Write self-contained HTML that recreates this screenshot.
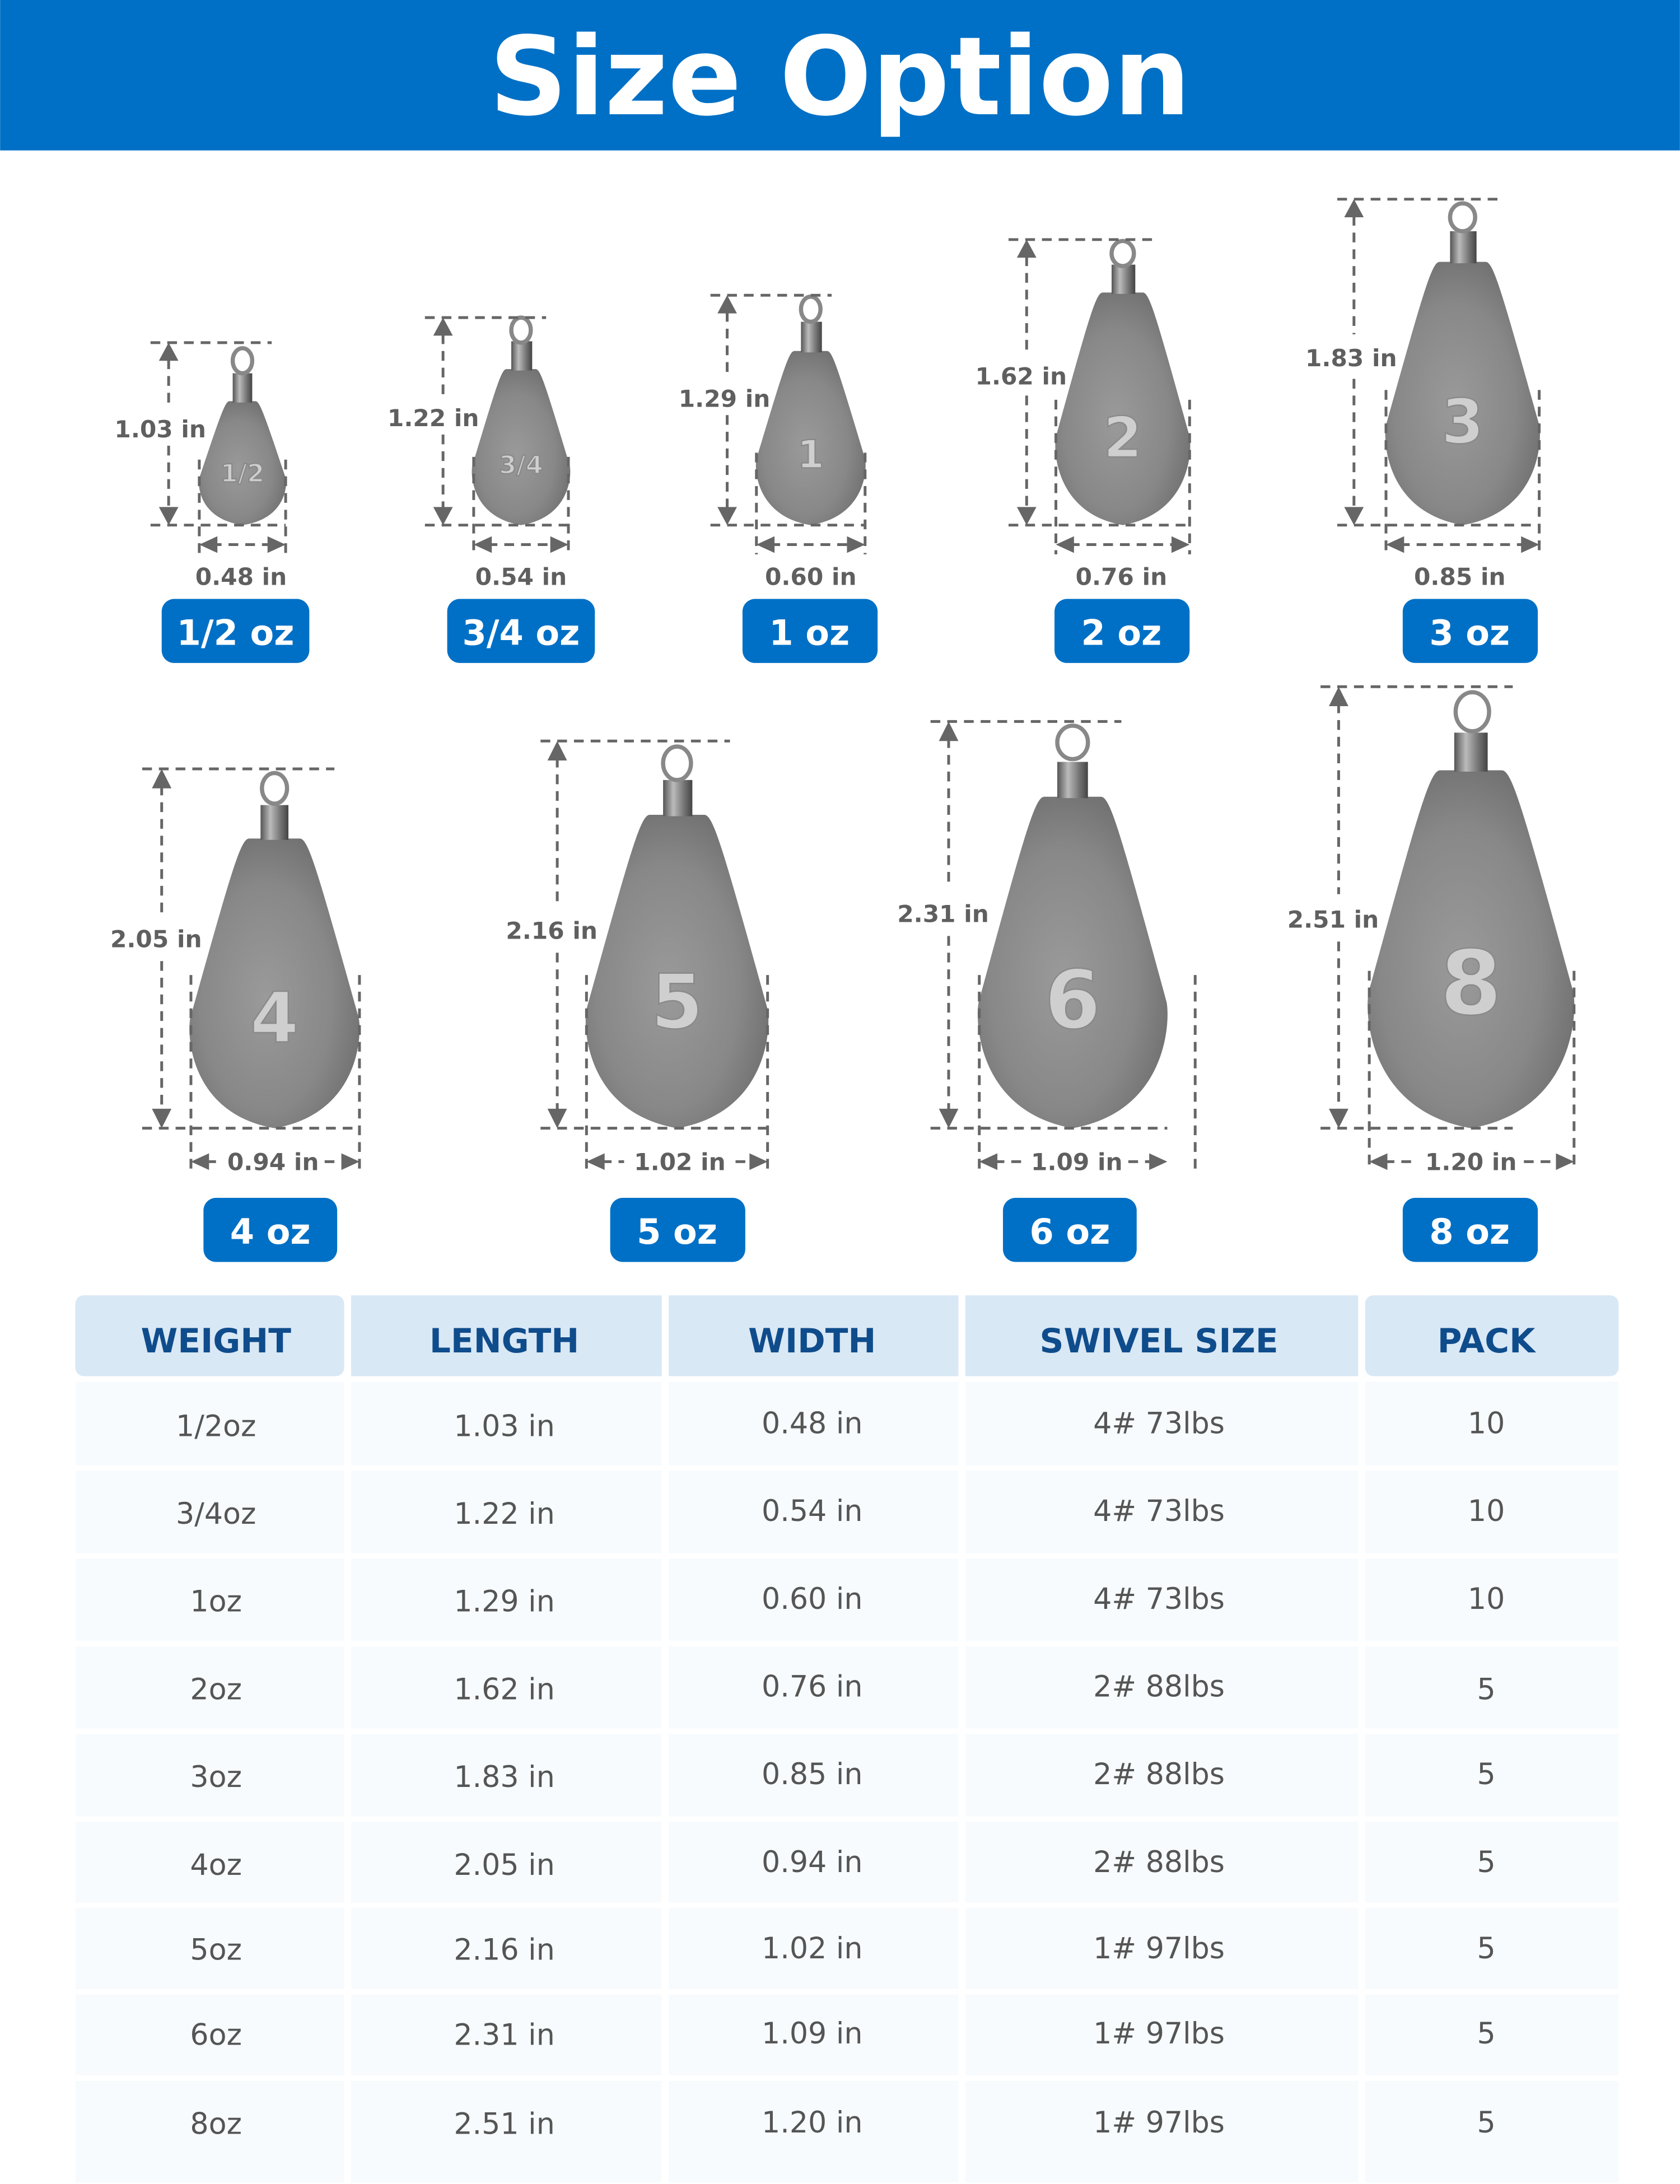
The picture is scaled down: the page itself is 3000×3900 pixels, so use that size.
<!DOCTYPE html>
<html><head><meta charset="utf-8">
<style>
html,body{margin:0;padding:0;background:#fff;}
svg{display:block;}
.dim{fill:#5f5f5f;font-family:"DejaVu Sans",sans-serif;font-weight:bold;font-size:17px;text-anchor:middle;}
.bd{fill:#fff;font-family:"DejaVu Sans",sans-serif;font-weight:bold;font-size:25px;text-anchor:middle;}
.th{fill:#0f4c8c;font-family:"DejaVu Sans",sans-serif;font-weight:bold;font-size:24px;text-anchor:middle;}
.td{fill:#555;font-family:"DejaVu Sans",sans-serif;font-size:21px;text-anchor:middle;}
.num{fill:#cfcfcf;stroke:#8a8a8a;stroke-width:1;font-family:"DejaVu Sans",sans-serif;font-weight:bold;text-anchor:middle;}
.dl{stroke:#666;stroke-width:2;stroke-dasharray:7 5;fill:none;}
</style></head>
<body>
<svg width="3000" height="3900" viewBox="0 0 1206 1568" xmlns="http://www.w3.org/2000/svg">
<defs>
<radialGradient id="lead" cx="0.45" cy="0.55" r="0.65">
<stop offset="0" stop-color="#9a9a9a"/><stop offset="0.6" stop-color="#888"/><stop offset="1" stop-color="#6a6a6a"/>
</radialGradient>
<linearGradient id="cyl" x1="0" x2="1" y1="0" y2="0">
<stop offset="0" stop-color="#555"/><stop offset="0.35" stop-color="#bbb"/><stop offset="0.7" stop-color="#777"/><stop offset="1" stop-color="#444"/>
</linearGradient>
<path id="body" d="M-0.15,0 C-0.2,0 -0.25,0.1 -0.5,0.62 C-0.52,0.68 -0.5,0.95 0,1 C0.5,0.95 0.52,0.68 0.5,0.62 C0.25,0.1 0.2,0 0.15,0 Z"/>
</defs>
<rect width="1206" height="1568" fill="#fff"/>
<rect width="1206" height="108" fill="#0070c6"/>
<text x="603" y="82" text-anchor="middle" fill="#fff" font-family="DejaVu Sans,sans-serif" font-weight="bold" font-size="78">Size Option</text>

<!-- 1/2 oz -->
<g>
<use href="#body" transform="translate(174,288) scale(62,89)" fill="url(#lead)"/>
<rect x="167" y="268" width="14" height="21" fill="url(#cyl)"/>
<ellipse cx="174" cy="259" rx="7" ry="9" fill="none" stroke="#888" stroke-width="3"/>
<text class="num" x="174" y="346" font-size="18">1/2</text>
<line class="dl" x1="108" y1="246" x2="195" y2="246"/><line class="dl" x1="108" y1="377" x2="205" y2="377"/>
<line class="dl" x1="121" y1="258" x2="121" y2="294"/><line class="dl" x1="121" y1="320" x2="121" y2="366"/>
<polygon points="114,259 128,259 121,246" fill="#666"/><polygon points="114,364 128,364 121,377" fill="#666"/>
<text class="dim" x="115" y="314">1.03 in</text>
<line class="dl" x1="143" y1="330" x2="143" y2="398"/><line class="dl" x1="205" y1="330" x2="205" y2="398"/>
<line class="dl" x1="152" y1="391" x2="196" y2="391"/>
<polygon points="143,391 156,385 156,397" fill="#666"/><polygon points="205,391 192,385 192,397" fill="#666"/>
<text class="dim" x="173" y="420">0.48 in</text>
<rect x="116" y="430" width="106" height="46" rx="9" fill="#0070c6"/><text class="bd" x="169" y="463">1/2 oz</text>
</g>
<!-- 3/4 oz -->
<g>
<use href="#body" transform="translate(374,265) scale(70,112)" fill="url(#lead)"/>
<rect x="367" y="245" width="15" height="21" fill="url(#cyl)"/>
<ellipse cx="374" cy="237" rx="7" ry="9" fill="none" stroke="#888" stroke-width="3"/>
<text class="num" x="374" y="340" font-size="18">3/4</text>
<line class="dl" x1="305" y1="228" x2="392" y2="228"/><line class="dl" x1="305" y1="377" x2="408" y2="377"/>
<line class="dl" x1="318" y1="240" x2="318" y2="284"/><line class="dl" x1="318" y1="312" x2="318" y2="366"/>
<polygon points="311,241 325,241 318,228" fill="#666"/><polygon points="311,364 325,364 318,377" fill="#666"/>
<text class="dim" x="311" y="306">1.22 in</text>
<line class="dl" x1="340" y1="328" x2="340" y2="398"/><line class="dl" x1="408" y1="328" x2="408" y2="398"/>
<line class="dl" x1="350" y1="391" x2="398" y2="391"/>
<polygon points="340,391 353,385 353,397" fill="#666"/><polygon points="408,391 395,385 395,397" fill="#666"/>
<text class="dim" x="374" y="420">0.54 in</text>
<rect x="321" y="430" width="106" height="46" rx="9" fill="#0070c6"/><text class="bd" x="374" y="463">3/4 oz</text>
</g>
<!-- 1 oz -->
<g>
<use href="#body" transform="translate(582,252) scale(78,125)" fill="url(#lead)"/>
<rect x="575" y="231" width="15" height="22" fill="url(#cyl)"/>
<ellipse cx="582" cy="222" rx="7" ry="9" fill="none" stroke="#888" stroke-width="3"/>
<text class="num" x="582" y="336" font-size="28">1</text>
<line class="dl" x1="510" y1="212" x2="597" y2="212"/><line class="dl" x1="510" y1="377" x2="621" y2="377"/>
<line class="dl" x1="522" y1="224" x2="522" y2="270"/><line class="dl" x1="522" y1="298" x2="522" y2="366"/>
<polygon points="515,225 529,225 522,212" fill="#666"/><polygon points="515,364 529,364 522,377" fill="#666"/>
<text class="dim" x="520" y="292">1.29 in</text>
<line class="dl" x1="543" y1="325" x2="543" y2="398"/><line class="dl" x1="621" y1="325" x2="621" y2="398"/>
<line class="dl" x1="553" y1="391" x2="611" y2="391"/>
<polygon points="543,391 556,385 556,397" fill="#666"/><polygon points="621,391 608,385 608,397" fill="#666"/>
<text class="dim" x="582" y="420">0.60 in</text>
<rect x="533" y="430" width="97" height="46" rx="9" fill="#0070c6"/><text class="bd" x="581" y="463">1 oz</text>
</g>
<!-- 2 oz -->
<g>
<use href="#body" transform="translate(806,210) scale(96,167)" fill="url(#lead)"/>
<rect x="798" y="190" width="17" height="21" fill="url(#cyl)"/>
<ellipse cx="806" cy="182" rx="8" ry="9" fill="none" stroke="#888" stroke-width="3"/>
<text class="num" x="806" y="328" font-size="40">2</text>
<line class="dl" x1="724" y1="172" x2="832" y2="172"/><line class="dl" x1="724" y1="377" x2="854" y2="377"/>
<line class="dl" x1="737" y1="184" x2="737" y2="254"/><line class="dl" x1="737" y1="284" x2="737" y2="366"/>
<polygon points="730,185 744,185 737,172" fill="#666"/><polygon points="730,364 744,364 737,377" fill="#666"/>
<text class="dim" x="733" y="276">1.62 in</text>
<line class="dl" x1="758" y1="287" x2="758" y2="398"/><line class="dl" x1="854" y1="287" x2="854" y2="398"/>
<line class="dl" x1="768" y1="391" x2="844" y2="391"/>
<polygon points="758,391 771,385 771,397" fill="#666"/><polygon points="854,391 841,385 841,397" fill="#666"/>
<text class="dim" x="805" y="420">0.76 in</text>
<rect x="757" y="430" width="97" height="46" rx="9" fill="#0070c6"/><text class="bd" x="805" y="463">2 oz</text>
</g>
<!-- 3 oz -->
<g>
<use href="#body" transform="translate(1050,188) scale(110,189)" fill="url(#lead)"/>
<rect x="1041" y="166" width="19" height="23" fill="url(#cyl)"/>
<ellipse cx="1050" cy="156" rx="9" ry="10" fill="none" stroke="#888" stroke-width="3"/>
<text class="num" x="1050" y="318" font-size="44">3</text>
<line class="dl" x1="960" y1="143" x2="1080" y2="143"/><line class="dl" x1="960" y1="377" x2="1105" y2="377"/>
<line class="dl" x1="972" y1="155" x2="972" y2="240"/><line class="dl" x1="972" y1="272" x2="972" y2="366"/>
<polygon points="965,156 979,156 972,143" fill="#666"/><polygon points="965,364 979,364 972,377" fill="#666"/>
<text class="dim" x="970" y="263">1.83 in</text>
<line class="dl" x1="995" y1="280" x2="995" y2="398"/><line class="dl" x1="1105" y1="280" x2="1105" y2="398"/>
<line class="dl" x1="1005" y1="391" x2="1095" y2="391"/>
<polygon points="995,391 1008,385 1008,397" fill="#666"/><polygon points="1105,391 1092,385 1092,397" fill="#666"/>
<text class="dim" x="1048" y="420">0.85 in</text>
<rect x="1007" y="430" width="97" height="46" rx="9" fill="#0070c6"/><text class="bd" x="1055" y="463">3 oz</text>
</g>
<!-- 4 oz -->
<g>
<use href="#body" transform="translate(197,602) scale(121,208)" fill="url(#lead)"/>
<rect x="187" y="578" width="20" height="25" fill="url(#cyl)"/>
<ellipse cx="197" cy="566" rx="9" ry="11" fill="none" stroke="#888" stroke-width="3"/>
<text class="num" x="197" y="748" font-size="50">4</text>
<line class="dl" x1="102" y1="552" x2="240" y2="552"/><line class="dl" x1="102" y1="810" x2="258" y2="810"/>
<line class="dl" x1="116" y1="564" x2="116" y2="655"/><line class="dl" x1="116" y1="690" x2="116" y2="798"/>
<polygon points="109,566 123,566 116,552" fill="#666"/><polygon points="109,796 123,796 116,810" fill="#666"/>
<text class="dim" x="112" y="680">2.05 in</text>
<line class="dl" x1="137" y1="700" x2="137" y2="840"/><line class="dl" x1="258" y1="700" x2="258" y2="840"/>
<line class="dl" x1="148" y1="834" x2="160" y2="834"/><line class="dl" x1="233" y1="834" x2="248" y2="834"/>
<polygon points="137,834 150,828 150,840" fill="#666"/><polygon points="258,834 245,828 245,840" fill="#666"/>
<text class="dim" x="196" y="840">0.94 in</text>
<rect x="146" y="860" width="96" height="46" rx="9" fill="#0070c6"/><text class="bd" x="194" y="893">4 oz</text>
</g>
<!-- 5 oz -->
<g>
<use href="#body" transform="translate(486,585) scale(130,225)" fill="url(#lead)"/>
<rect x="476" y="560" width="21" height="26" fill="url(#cyl)"/>
<ellipse cx="486" cy="548" rx="10" ry="12" fill="none" stroke="#888" stroke-width="3"/>
<text class="num" x="486" y="738" font-size="54">5</text>
<line class="dl" x1="388" y1="532" x2="524" y2="532"/><line class="dl" x1="388" y1="810" x2="551" y2="810"/>
<line class="dl" x1="400" y1="544" x2="400" y2="650"/><line class="dl" x1="400" y1="684" x2="400" y2="798"/>
<polygon points="393,546 407,546 400,532" fill="#666"/><polygon points="393,796 407,796 400,810" fill="#666"/>
<text class="dim" x="396" y="674">2.16 in</text>
<line class="dl" x1="421" y1="700" x2="421" y2="840"/><line class="dl" x1="551" y1="700" x2="551" y2="840"/>
<line class="dl" x1="432" y1="834" x2="448" y2="834"/><line class="dl" x1="528" y1="834" x2="541" y2="834"/>
<polygon points="421,834 434,828 434,840" fill="#666"/><polygon points="551,834 538,828 538,840" fill="#666"/>
<text class="dim" x="488" y="840">1.02 in</text>
<rect x="438" y="860" width="97" height="46" rx="9" fill="#0070c6"/><text class="bd" x="486" y="893">5 oz</text>
</g>
<!-- 6 oz -->
<g>
<use href="#body" transform="translate(770,572) scale(135,238)" fill="url(#lead)"/>
<rect x="759" y="547" width="22" height="26" fill="url(#cyl)"/>
<ellipse cx="770" cy="533" rx="11" ry="12" fill="none" stroke="#888" stroke-width="3"/>
<text class="num" x="770" y="738" font-size="58">6</text>
<line class="dl" x1="668" y1="518" x2="805" y2="518"/><line class="dl" x1="668" y1="810" x2="838" y2="810"/>
<line class="dl" x1="681" y1="530" x2="681" y2="638"/><line class="dl" x1="681" y1="672" x2="681" y2="798"/>
<polygon points="674,532 688,532 681,518" fill="#666"/><polygon points="674,796 688,796 681,810" fill="#666"/>
<text class="dim" x="677" y="662">2.31 in</text>
<line class="dl" x1="703" y1="700" x2="703" y2="840"/><line class="dl" x1="858" y1="700" x2="858" y2="840"/>
<line class="dl" x1="714" y1="834" x2="735" y2="834"/><line class="dl" x1="810" y1="834" x2="828" y2="834"/>
<polygon points="703,834 716,828 716,840" fill="#666"/><polygon points="838,834 825,828 825,840" fill="#666"/>
<text class="dim" x="773" y="840">1.09 in</text>
<rect x="720" y="860" width="96" height="46" rx="9" fill="#0070c6"/><text class="bd" x="768" y="893">6 oz</text>
</g>
<!-- 8 oz -->
<g>
<use href="#body" transform="translate(1056,553) scale(147,257)" fill="url(#lead)"/>
<rect x="1044" y="526" width="24" height="28" fill="url(#cyl)"/>
<ellipse cx="1057" cy="511" rx="12" ry="14" fill="none" stroke="#888" stroke-width="3"/>
<text class="num" x="1056" y="728" font-size="64">8</text>
<line class="dl" x1="948" y1="493" x2="1086" y2="493"/><line class="dl" x1="948" y1="810" x2="1086" y2="810"/>
<line class="dl" x1="961" y1="505" x2="961" y2="642"/><line class="dl" x1="961" y1="676" x2="961" y2="798"/>
<polygon points="954,507 968,507 961,493" fill="#666"/><polygon points="954,796 968,796 961,810" fill="#666"/>
<text class="dim" x="957" y="666">2.51 in</text>
<line class="dl" x1="983" y1="697" x2="983" y2="840"/><line class="dl" x1="1130" y1="697" x2="1130" y2="840"/>
<line class="dl" x1="994" y1="834" x2="1018" y2="834"/><line class="dl" x1="1094" y1="834" x2="1120" y2="834"/>
<polygon points="983,834 996,828 996,840" fill="#666"/><polygon points="1130,834 1117,828 1117,840" fill="#666"/>
<text class="dim" x="1056" y="840">1.20 in</text>
<rect x="1007" y="860" width="97" height="46" rx="9" fill="#0070c6"/><text class="bd" x="1055" y="893">8 oz</text>
</g>

<!-- Table -->
<g fill="#d9e8f5">
<rect x="54" y="930" width="193" height="58" rx="6"/>
<rect x="252" y="930" width="223" height="58"/>
<rect x="480" y="930" width="208" height="58"/>
<rect x="693" y="930" width="282" height="58"/>
<rect x="980" y="930" width="182" height="58" rx="6"/>
</g>
<text class="th" x="155" y="971">WEIGHT</text>
<text class="th" x="362" y="971">LENGTH</text>
<text class="th" x="583" y="971">WIDTH</text>
<text class="th" x="832" y="971">SWIVEL SIZE</text>
<text class="th" x="1067" y="971">PACK</text>
<g fill="#f7fbfe">
<rect x="54" y="992" width="193" height="575"/>
<rect x="252" y="992" width="223" height="575"/>
<rect x="480" y="992" width="208" height="575"/>
<rect x="693" y="992" width="282" height="575"/>
<rect x="980" y="992" width="182" height="575"/>
</g>
<g stroke="#fff" stroke-width="4">
<line x1="54" y1="1054" x2="1162" y2="1054"/><line x1="54" y1="1117" x2="1162" y2="1117"/>
<line x1="54" y1="1180" x2="1162" y2="1180"/><line x1="54" y1="1243" x2="1162" y2="1243"/>
<line x1="54" y1="1306" x2="1162" y2="1306"/><line x1="54" y1="1368" x2="1162" y2="1368"/>
<line x1="54" y1="1430" x2="1162" y2="1430"/><line x1="54" y1="1492" x2="1162" y2="1492"/>
</g>
<g>
<text class="td" x="155" y="1031">1/2oz</text><text class="td" x="362" y="1031">1.03 in</text><text class="td" x="583" y="1029">0.48 in</text><text class="td" x="832" y="1029">4# 73lbs</text><text class="td" x="1067" y="1029">10</text>
<text class="td" x="155" y="1094">3/4oz</text><text class="td" x="362" y="1094">1.22 in</text><text class="td" x="583" y="1092">0.54 in</text><text class="td" x="832" y="1092">4# 73lbs</text><text class="td" x="1067" y="1092">10</text>
<text class="td" x="155" y="1157">1oz</text><text class="td" x="362" y="1157">1.29 in</text><text class="td" x="583" y="1155">0.60 in</text><text class="td" x="832" y="1155">4# 73lbs</text><text class="td" x="1067" y="1155">10</text>
<text class="td" x="155" y="1220">2oz</text><text class="td" x="362" y="1220">1.62 in</text><text class="td" x="583" y="1218">0.76 in</text><text class="td" x="832" y="1218">2# 88lbs</text><text class="td" x="1067" y="1220">5</text>
<text class="td" x="155" y="1283">3oz</text><text class="td" x="362" y="1283">1.83 in</text><text class="td" x="583" y="1281">0.85 in</text><text class="td" x="832" y="1281">2# 88lbs</text><text class="td" x="1067" y="1281">5</text>
<text class="td" x="155" y="1346">4oz</text><text class="td" x="362" y="1346">2.05 in</text><text class="td" x="583" y="1344">0.94 in</text><text class="td" x="832" y="1344">2# 88lbs</text><text class="td" x="1067" y="1344">5</text>
<text class="td" x="155" y="1407">5oz</text><text class="td" x="362" y="1407">2.16 in</text><text class="td" x="583" y="1406">1.02 in</text><text class="td" x="832" y="1406">1# 97lbs</text><text class="td" x="1067" y="1406">5</text>
<text class="td" x="155" y="1468">6oz</text><text class="td" x="362" y="1468">2.31 in</text><text class="td" x="583" y="1467">1.09 in</text><text class="td" x="832" y="1467">1# 97lbs</text><text class="td" x="1067" y="1467">5</text>
<text class="td" x="155" y="1532">8oz</text><text class="td" x="362" y="1532">2.51 in</text><text class="td" x="583" y="1531">1.20 in</text><text class="td" x="832" y="1531">1# 97lbs</text><text class="td" x="1067" y="1531">5</text>
</g>
</svg>
</body></html>
